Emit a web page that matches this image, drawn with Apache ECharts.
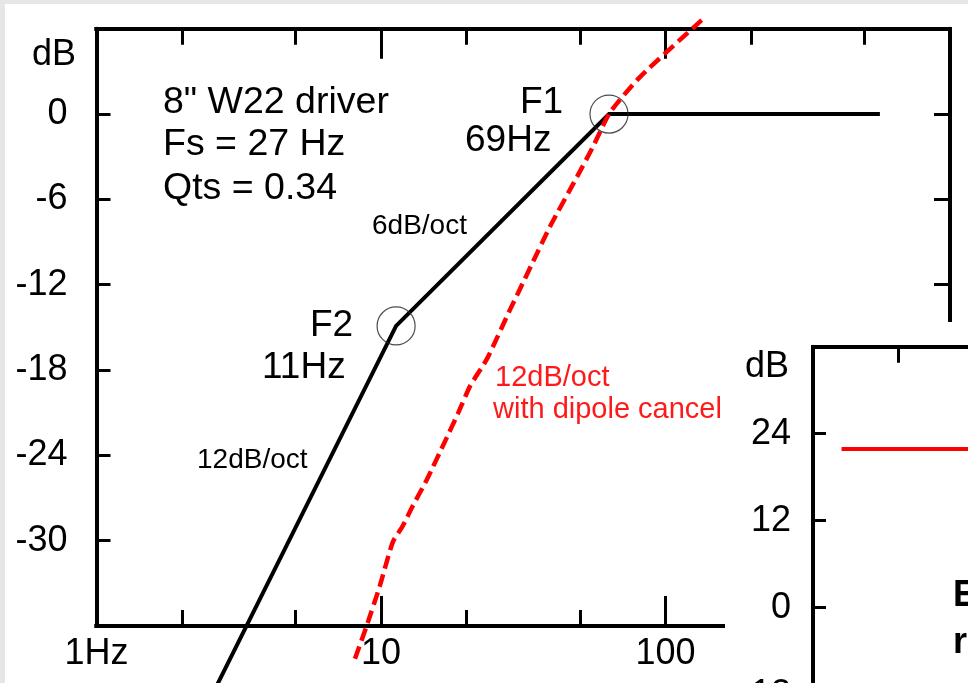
<!DOCTYPE html>
<html><head><meta charset="utf-8">
<script src="https://cdn.jsdelivr.net/npm/echarts@6/dist/echarts.min.js"></script>
<style>html,body{margin:0;padding:0;background:#e6e6e6}#c{width:968px;height:683px}</style>
</head><body><div id="c"></div>
<script>
// ---- data ----
const decadeTicks = [1, 10, 100, 1000];
const minorTicks = [2, 5, 20, 50, 200, 500];
const xLabelValues = [1, 10, 100];
const dbLabelValues = [-30, -24, -18, -12, -6, 0];
const driverResponse = [[2.6, -40.5], [11.3, -14.9], [63.3, 0], [567, 0]];
const dipoleResponse = [[8.1, -38.3], [8.9, -36.0], [9.9, -33.2], [11.0, -30.1], [11.9, -29.0], [12.9, -27.6],
  [14.5, -25.7], [16.8, -23.0], [18.7, -21.0], [20.6, -19.1], [23.6, -17.2], [28.5, -13.7], [30.8, -12.3],
  [34.2, -10.4], [39.3, -7.9], [48.9, -4.4], [55.6, -2.3], [63.8, 0.1], [81.3, 2.6], [134, 6.6]];
const cornerPoints = [[63.3, 0], [11.3, -14.9]];
const insetResponse = [[1.26, 21.9], [10, 21.9]];
const insetXTicks = [2, 10];
const insetDbLabels = [-12, 0, 12, 24];

const FONT = '"Liberation Sans", Arial, sans-serif';
const chart = echarts.init(document.getElementById('c'));

function xAx(grid, pos, ticks, len, labels) {
  return {
    gridIndex: grid, type: 'log', logBase: 10, min: 1, max: 1000, position: pos, z: grid ? 6 : 1,
    axisLine: { show: true, onZero: false, lineStyle: { color: '#000', width: 4, cap: 'square' } },
    axisTick: { show: true, inside: true, length: len, customValues: ticks, lineStyle: { color: '#000', width: 3 } },
    axisLabel: labels ? { show: true, customValues: labels, margin: 10, color: '#000', fontSize: 36, fontFamily: FONT,
      formatter: v => (v === 1 ? '1Hz' : String(Math.round(v))) } : { show: false },
    splitLine: { show: false }, minorTick: { show: false }
  };
}

const option = {
  backgroundColor: '#e6e6e6',
  animation: false,
  grid: [
    { left: 96.5, top: 28.7, width: 853.5, height: 597.3, outerBoundsMode: 'none', containLabel: false },
    { left: 813, top: 346.7, width: 853.5, height: 435, outerBoundsMode: 'none', containLabel: false }
  ],
  xAxis: [
    xAx(0, 'bottom', decadeTicks, 30, xLabelValues),
    xAx(0, 'bottom', minorTicks, 16, null),
    xAx(0, 'top', decadeTicks, 30, null),
    xAx(0, 'top', minorTicks, 16, null),
    xAx(1, 'top', insetXTicks, 16, null)
  ],
  yAxis: [
    { gridIndex: 0, type: 'value', min: -36, max: 6, interval: 6, position: 'left', z: 1,
      axisLine: { show: true, onZero: false, lineStyle: { color: '#000', width: 4 } },
      axisTick: { show: true, inside: true, length: 14, lineStyle: { color: '#000', width: 3 } },
      axisLabel: { show: true, customValues: dbLabelValues, margin: 29, color: '#000', fontSize: 36, fontFamily: FONT },
      splitLine: { show: false } },
    { gridIndex: 0, type: 'value', min: -36, max: 6, interval: 6, position: 'right', z: 1,
      axisLine: { show: true, onZero: false, lineStyle: { color: '#000', width: 4 } },
      axisTick: { show: true, inside: true, length: 16, lineStyle: { color: '#000', width: 3 } },
      axisLabel: { show: false }, splitLine: { show: false } },
    { gridIndex: 1, type: 'value', min: -24, max: 36, interval: 12, position: 'left', z: 6,
      axisLine: { show: true, onZero: false, lineStyle: { color: '#000', width: 4 } },
      axisTick: { show: true, inside: true, length: 13, lineStyle: { color: '#000', width: 3 } },
      axisLabel: { show: true, customValues: insetDbLabels, margin: 22, color: '#000', fontSize: 36, fontFamily: FONT },
      splitLine: { show: false } }
  ],
  series: [
    { type: 'line', xAxisIndex: 0, yAxisIndex: 0, data: driverResponse, symbol: 'none', clip: false, z: 2,
      lineStyle: { color: '#000', width: 4, join: 'miter' } },
    { type: 'line', xAxisIndex: 0, yAxisIndex: 0, data: dipoleResponse, symbol: 'none', clip: false, z: 3, smooth: 0.2,
      lineStyle: { color: '#ff0000', width: 4.5, type: [13, 6] } },
    { type: 'scatter', xAxisIndex: 0, yAxisIndex: 0, data: cornerPoints, symbol: 'circle', symbolSize: 38, z: 4,
      itemStyle: { color: 'rgba(0,0,0,0)', borderColor: '#222', borderWidth: 1.2 } },
    { type: 'line', xAxisIndex: 4, yAxisIndex: 2, data: insetResponse, symbol: 'none', z: 7,
      lineStyle: { color: '#ff0000', width: 4 } }
  ],
  graphic: [
    { type: 'rect', z: -1, shape: { x: 5, y: 4, width: 970, height: 690 }, style: { fill: '#fff' } },
    { type: 'rect', z: 5, shape: { x: 725, y: 322, width: 260, height: 380 }, style: { fill: '#fff' } },
    ...[
      ['dB', 32, 55, 36, '#000', 'normal'],
      ['8" W22 driver', 163, 103, 37.5, '#000', 'normal'],
      ['Fs = 27 Hz', 163, 145, 37.5, '#000', 'normal'],
      ['Qts = 0.34', 163, 189, 37.5, '#000', 'normal'],
      ['F1', 520, 103, 37, '#000', 'normal'],
      ['69Hz', 465, 141, 37, '#000', 'normal'],
      ['6dB/oct', 372, 226, 28, '#000', 'normal'],
      ['F2', 310, 326, 37, '#000', 'normal'],
      ['11Hz', 262, 368, 37, '#000', 'normal'],
      ['12dB/oct', 197, 460, 28, '#000', 'normal'],
      ['12dB/oct', 495, 378, 29, '#ff1a1a', 'normal'],
      ['with dipole cancel', 493, 410, 29, '#ff1a1a', 'normal'],
      ['dB', 745, 367, 36, '#000', 'normal'],
      ['E', 953, 596, 36, '#000', 'bold'],
      ['r', 953, 643, 36, '#000', 'bold']
    ].map(t => ({ type: 'text', z: 10, x: t[1], y: t[2],
      style: { text: t[0], fill: t[4], font: t[5] + ' ' + t[3] + 'px ' + FONT, textAlign: 'left', textVerticalAlign: 'middle', verticalAlign: 'middle' } }))
  ]
};
chart.setOption(option);
</script></body></html>
